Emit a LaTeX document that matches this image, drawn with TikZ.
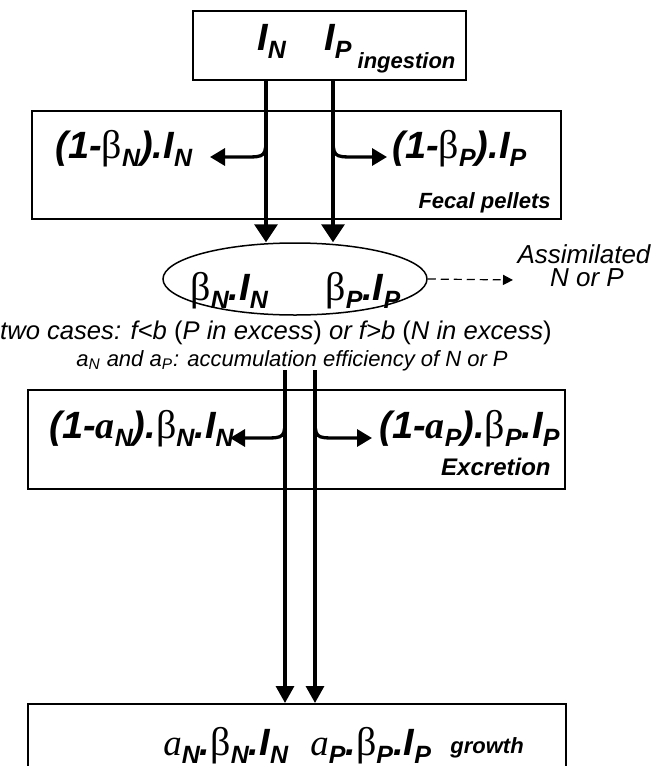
\documentclass[tikz,border=0pt]{standalone}
\usepackage{fontspec}
\setmainfont{Liberation Sans}
\newfontfamily\serf{Liberation Serif}
\usetikzlibrary{arrows.meta,shapes.geometric}
\newcommand\sbx[1]{\raisebox{-4pt}{\fontsize{12.5}{13}\selectfont\bfseries\itshape #1}}
\newcommand\bet{{\serf\fontsize{20}{22}\selectfont\mdseries\upshape β}}
\newcommand\abi{{\serf\fontsize{19}{22}\selectfont\bfseries\itshape a}}
\newcommand\ait{{\serf\fontsize{18.5}{22}\selectfont\mdseries\itshape a}}
\begin{document}
\begin{tikzpicture}[x=0.5pt,y=-0.5pt,
  box/.style={draw, line width=0.85pt, inner sep=0, anchor=north west},
  flow/.style={line width=1.8pt, -{Triangle[length=9pt,width=11.5pt]}},
  flowb/.style={line width=1.65pt, -{Triangle[length=8.5pt,width=9pt]}},
  side/.style={line width=1.65pt, -{Triangle[length=7.5pt,width=8.5pt]}},
  lbl/.style={inner sep=0, anchor=base west, font=\bfseries\itshape\fontsize{19}{21}\selectfont},
  tag/.style={inner sep=0, font=\bfseries\itshape\fontsize{11}{13}\selectfont},
  note/.style={inner sep=0, anchor=base, font=\itshape\fontsize{13}{15}\selectfont},
]
\useasboundingbox (0,0) rectangle (653,766);
\clip (0,0) rectangle (653,766);

% boxes
\node[box, minimum width=136.5pt, minimum height=34.5pt] (top) at (192,10) {};
\node[box, minimum width=264.5pt, minimum height=54pt] (fecal) at (31,110) {};
\node[draw, ellipse, line width=0.75pt, inner sep=0, minimum width=132pt, minimum height=36pt] (ell) at (295,279) {};
\node[box, minimum width=268.5pt, minimum height=49.5pt] (excr) at (27,389) {};
\node[box, minimum width=269pt, minimum height=60pt] (grow) at (27,703) {};

% texts
\node[lbl] (tIN) at (257,50) {I\sbx{N}};
\node[lbl] (tIP) at (324,50) {I\sbx{P}\hspace{3pt}\raisebox{-9pt}{\fontsize{11}{13}\selectfont ingestion}};

\node[lbl] (fL) at (55,158) {(1-\bet\sbx{N}).I\sbx{N}};
\node[lbl] (fR) at (392,158) {(1-\bet\sbx{P}).I\sbx{P}};
\node[tag, anchor=base east] (fp) at (551,208) {Fecal pellets};

\node[lbl] (eN) at (190,300) {\bet\sbx{N}.I\sbx{N}};
\node[lbl] (eP) at (325,300) {\bet\sbx{P}.I\sbx{P}};

\node[note] (as1) at (584,263) {Assimilated};
\node[note] (as2) at (587,286) {N or P};

\node[note, font=\itshape\fontsize{12.8}{15}\selectfont] (cases) at (276,339)
  {two cases: f<b \textup{(}P in excess\textup{)} or f>b \textup{(}N in excess\textup{)}};
\node[note, font=\itshape\fontsize{11}{13}\selectfont] (acc) at (292,366)
  {a\textsubscript{N} and a\textsubscript{P}: accumulation efficiency of N or P};

\node[lbl] (xL) at (49,438) {(1-\abi\sbx{N}).\bet\sbx{N}.I\sbx{N}};
\node[lbl] (xR) at (379,438) {(1-\abi\sbx{P}).\bet\sbx{P}.I\sbx{P}};
\node[tag, anchor=base east, font=\bfseries\itshape\fontsize{12}{14}\selectfont] (ex) at (551,475) {Excretion};

\node[lbl] (gN) at (163,755) {\ait\sbx{N}.\bet\sbx{N}.I\sbx{N}};
\node[lbl] (gP) at (310,755) {\ait\sbx{P}.\bet\sbx{P}.I\sbx{P}};
\node[tag, anchor=base west] (gw) at (450,753) {growth};

% connector points
\coordinate (xa) at (266,0);
\coordinate (xb) at (333,0);
\coordinate (ca) at (266,133);
\coordinate (cb) at (333,133);
\coordinate (la) at (210,157);
\coordinate (lb) at (387,157);
\coordinate (sc) at (285,370);
\coordinate (sd) at (315,370);
\coordinate (cc) at (285,415);
\coordinate (cd) at (315,415);
\coordinate (lc) at (230,438);
\coordinate (ld) at (372,438);
\coordinate (da) at (513,280);

% main flows
\draw[flow] (top.south -| xa) -- (ell.north -| xa);
\draw[flow] (top.south -| xb) -- (ell.north -| xb);
\draw[side] (ca) .. controls (266,157) .. (244,157) -- (la);
\draw[side] (cb) .. controls (333,157) .. (355,157) -- (lb);

\draw[dash pattern=on 4pt off 2.5pt, line width=0.6pt, -{Triangle[length=5pt,width=5pt]}] (ell.east) -- (da);

\draw[flowb] (sc) -- (grow.north -| sc);
\draw[flowb] (sd) -- (grow.north -| sd);
\draw[side] (cc) .. controls (285,438) .. (263,438) -- (lc);
\draw[side] (cd) .. controls (315,438) .. (337,438) -- (ld);
\end{tikzpicture}
\end{document}
